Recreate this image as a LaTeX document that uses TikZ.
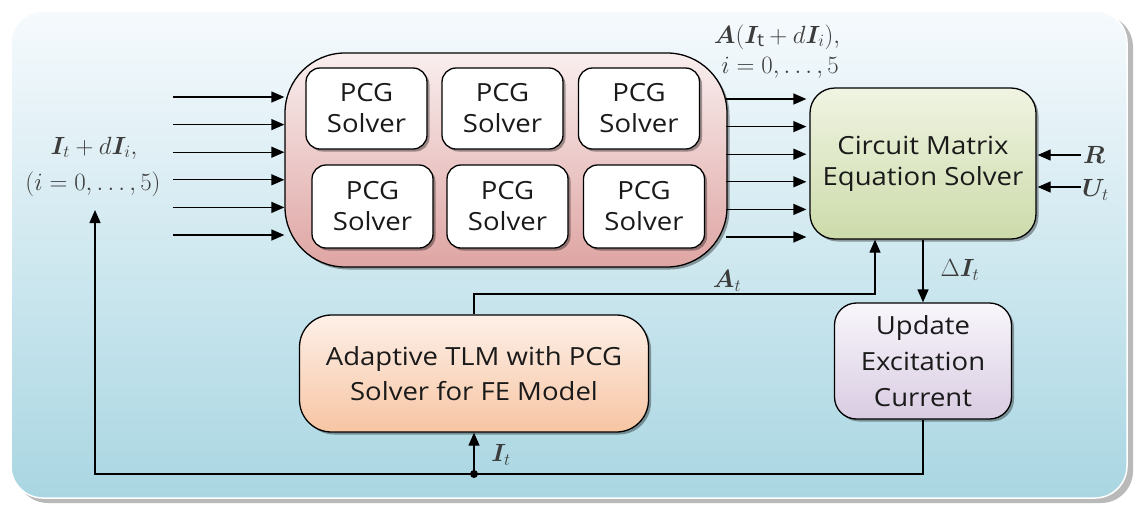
\documentclass[tikz,border=0pt]{standalone}
\usepackage{fontspec}
\setmainfont{Open Sans}[FakeStretch=1.1]
\usepackage{amsmath,bm}
\usetikzlibrary{arrows.meta,shadows}
\definecolor{bgtop}{HTML}{F6FAFD}
\definecolor{bgbot}{HTML}{A9D6E2}
\definecolor{pinktop}{HTML}{F9EEEE}
\definecolor{pinkbot}{HTML}{DEA5A3}
\definecolor{greentop}{HTML}{F0F4E2}
\definecolor{greenbot}{HTML}{CCDBAA}
\definecolor{peachtop}{HTML}{FDF0E8}
\definecolor{peachbot}{HTML}{F7C5A3}
\definecolor{lavtop}{HTML}{F8F6FB}
\definecolor{lavbot}{HTML}{D9CCE2}
\definecolor{txt}{HTML}{1A1A1A}
\begin{document}
\begin{tikzpicture}[x=1pt,y=-1pt,
  box/.style={draw=black, line width=1.3pt, align=center, inner sep=0pt,
    font=\fontsize{25}{31}\selectfont, text=txt,
    drop shadow={shadow xshift=2.5pt, shadow yshift=-2.5pt, opacity=0.35, fill=black}},
  pcg/.style={box, fill=white, minimum width=121pt, rounded corners=14pt},
  arr/.style={-{Triangle[length=13pt,width=11pt]}, line width=1.3pt},
  ln/.style={line width=1.3pt},
  mlab/.style={font=\fontsize{26}{30}\selectfont, text=txt!85, inner sep=0pt}]
\useasboundingbox (0,0) rectangle (1139,504);
% background
\fill[gray!55, rounded corners=32pt] (16,15) rectangle (1133,503);
\path[draw=white, line width=1.5pt, rounded corners=32pt, top color=bgtop, bottom color=bgbot]
  (11,11) rectangle (1127,498);
% solver pool
\node[box, minimum width=442pt, minimum height=214pt, rounded corners=60pt,
  top color=pinktop, bottom color=pinkbot] (pool) at (506,160) {};
\node[pcg, minimum height=81pt] (p1) at (366.5,108.5) {PCG\\Solver};
\node[pcg, minimum height=81pt] (p2) at (502.5,108.5) {PCG\\Solver};
\node[pcg, minimum height=81pt] (p3) at (639,108.5) {PCG\\Solver};
\node[pcg, minimum height=83pt] (p4) at (372.5,206.5) {PCG\\Solver};
\node[pcg, minimum height=83pt] (p5) at (507.5,206.5) {PCG\\Solver};
\node[pcg, minimum height=83pt] (p6) at (644,206.5) {PCG\\Solver};
% circuit solver
\node[box, minimum width=226pt, minimum height=151pt, rounded corners=25pt,
  top color=greentop, bottom color=greenbot] (circ) at (923,163.5) {Circuit Matrix\\Equation Solver};
% update
\node[box, minimum width=177pt, minimum height=116pt, rounded corners=22pt,
  top color=lavtop, bottom color=lavbot, font=\fontsize{25}{36}\selectfont] (upd) at (923,361) {Update\\Excitation\\Current};
% adaptive
\node[box, minimum width=349pt, minimum height=117pt, rounded corners=32pt,
  top color=peachtop, bottom color=peachbot, font=\fontsize{25}{35}\selectfont] (adapt) at (474,373.5) {Adaptive TLM with PCG\\Solver for FE Model};
% input arrows
\foreach \y [count=\i] in {97,124.6,152.2,179.8,207.4,235} {
  \coordinate (in\i) at (173,\y);
  \draw[arr] (in\i) -- (pool.west |- in\i);
}
% output arrows
\foreach \y [count=\i] in {99,126.6,154.2,181.8,209.4,237} {
  \coordinate (out\i) at (726,\y);
  \draw[arr, shorten >=3pt] (out\i) -- (circ.west |- out\i);
}
% labels
\node[mlab] (lin1) at (94,148) {$\bm{I}_t + d\bm{I}_i,$};
\node[mlab] (lin2) at (93,184) {$(i = 0, \ldots, 5)$};
\node[mlab] (lout1) at (777,37) {$\bm{A}(\bm{I}_{\mathrm{t}} + d\bm{I}_i),$};
\node[mlab] (lout2) at (780,68) {$i = 0, \ldots, 5$};
% R and U
\coordinate (rsrc) at (1081,155);
\coordinate (usrc) at (1081,187);
\draw[arr, shorten >=1pt] (rsrc) -- (circ.east |- rsrc);
\draw[arr, shorten >=1pt] (usrc) -- (circ.east |- usrc);
\node[mlab, anchor=west] (lr) at (1083,155) {$\bm{R}$};
\node[mlab, anchor=west] (lu) at (1082,190) {$\bm{U}_t$};
% A_t path
\coordinate (acorner1) at (adapt.north |- 0,294);
\coordinate (acorner2) at (875,294);
\draw[arr] (adapt.north) -- (acorner1) -- (acorner2) -- (circ.south -| acorner2);
\node[mlab] (lat) at (727,281) {$\bm{A}_t$};
% Delta I_t
\draw[arr] (circ.south) -- (upd.north);
\node[mlab] (ldi) at (960,270) {$\Delta\bm{I}_t$};
% feedback
\coordinate (fb1) at (upd.south |- 0,474);
\coordinate (fb2) at (95,474);
\coordinate (fbtop) at (95,210);
\coordinate (junc) at (adapt.south |- 0,474);
\draw[arr] (upd.south) -- (fb1) -- (fb2) -- (fbtop);
\draw[arr] (junc) -- (adapt.south);
\fill (junc) circle (4pt);
\node[mlab] (lit) at (501,455) {$\bm{I}_t$};
\end{tikzpicture}
\end{document}
